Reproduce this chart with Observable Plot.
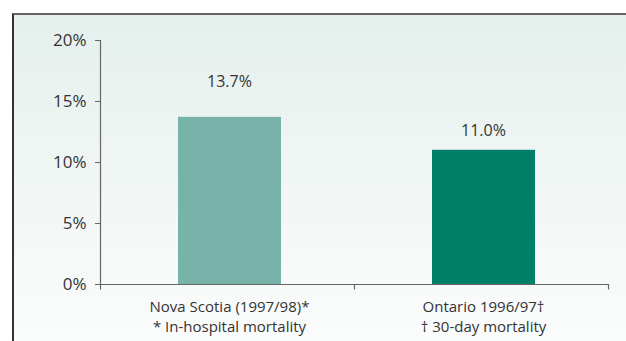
<!DOCTYPE html>
<html><head><meta charset="utf-8">
<script src="https://cdn.jsdelivr.net/npm/d3@7"></script>
<script src="https://cdn.jsdelivr.net/npm/@observablehq/plot@0.6"></script>
<style>
body{margin:0;background:#fff;}
#wrap{position:relative;width:626px;height:341px;overflow:hidden;font-family:"Open Sans",sans-serif;}
#panel{position:absolute;left:12px;top:13px;width:614px;height:328px;border-top:2px solid #666;border-left:2px solid #333;background:linear-gradient(#e5f0ed,#fbfcfc);box-sizing:border-box;}
#chart{position:absolute;left:0;top:0;}
</style></head>
<body>
<div id="wrap">
  <div id="panel"></div>
  <div id="chart"></div>
</div>
<script>
const regions = ["Nova Scotia (1997/98)*", "Ontario 1996/97†"];
const notes = ["* In-hospital mortality", "† 30-day mortality"];
const rates = [13.7, 11.0];
const colors = ["#77b3a8", "#007f68"];
const yTicks = [0, 5, 10, 15, 20];

const data = regions.map((r, i) => ({region: r, note: notes[i], rate: rates[i]}));

const chart = Plot.plot({
  width: 626,
  height: 341,
  marginLeft: 100,
  marginRight: 18,
  marginTop: 40,
  marginBottom: 57,
  style: {background: "transparent", fontFamily: "'Open Sans', sans-serif", color: "#333"},
  x: {domain: regions, padding: 0, axis: null},
  y: {domain: [0, 20], axis: null},
  color: {domain: regions, range: colors},
  marks: [
    Plot.barY(data, {x: "region", y: "rate", fill: "region", insetLeft: 78, insetRight: 73}),
    Plot.ruleY([0], {stroke: "#666", strokeWidth: 1.2}),
    Plot.ruleX([regions[0]], {x: d => d, y1: -0.45, y2: 20, dx: -127, stroke: "#666", strokeWidth: 1.2}),
    Plot.ruleX(regions, {x: d => d, y1: -0.45, y2: 0, dx: 127, stroke: "#666", strokeWidth: 1.2}),
    Plot.axisY({ticks: yTicks, label: null, tickSize: 5, tickPadding: 9, tickFormat: d => d + "%", fontSize: 17, stroke: "#666", fill: "#333"}),
    Plot.text(data.slice(0, 1), {x: "region", y: "rate", text: d => d.rate.toFixed(1) + "%", dy: -35, dx: 2, fontSize: 16, fill: "#333"}),
    Plot.text(data.slice(1), {x: "region", y: "rate", text: d => d.rate.toFixed(1) + "%", dy: -19, dx: 2, fontSize: 16, fill: "#333"}),
    Plot.text(data, {x: "region", y: 0, text: d => d.region + "\n" + d.note, lineAnchor: "top", dy: 13, dx: 2, lineHeight: 1.33, fontSize: 15, fill: "#333"})
  ]
});
document.getElementById("chart").appendChild(chart);
</script>
</body></html>
